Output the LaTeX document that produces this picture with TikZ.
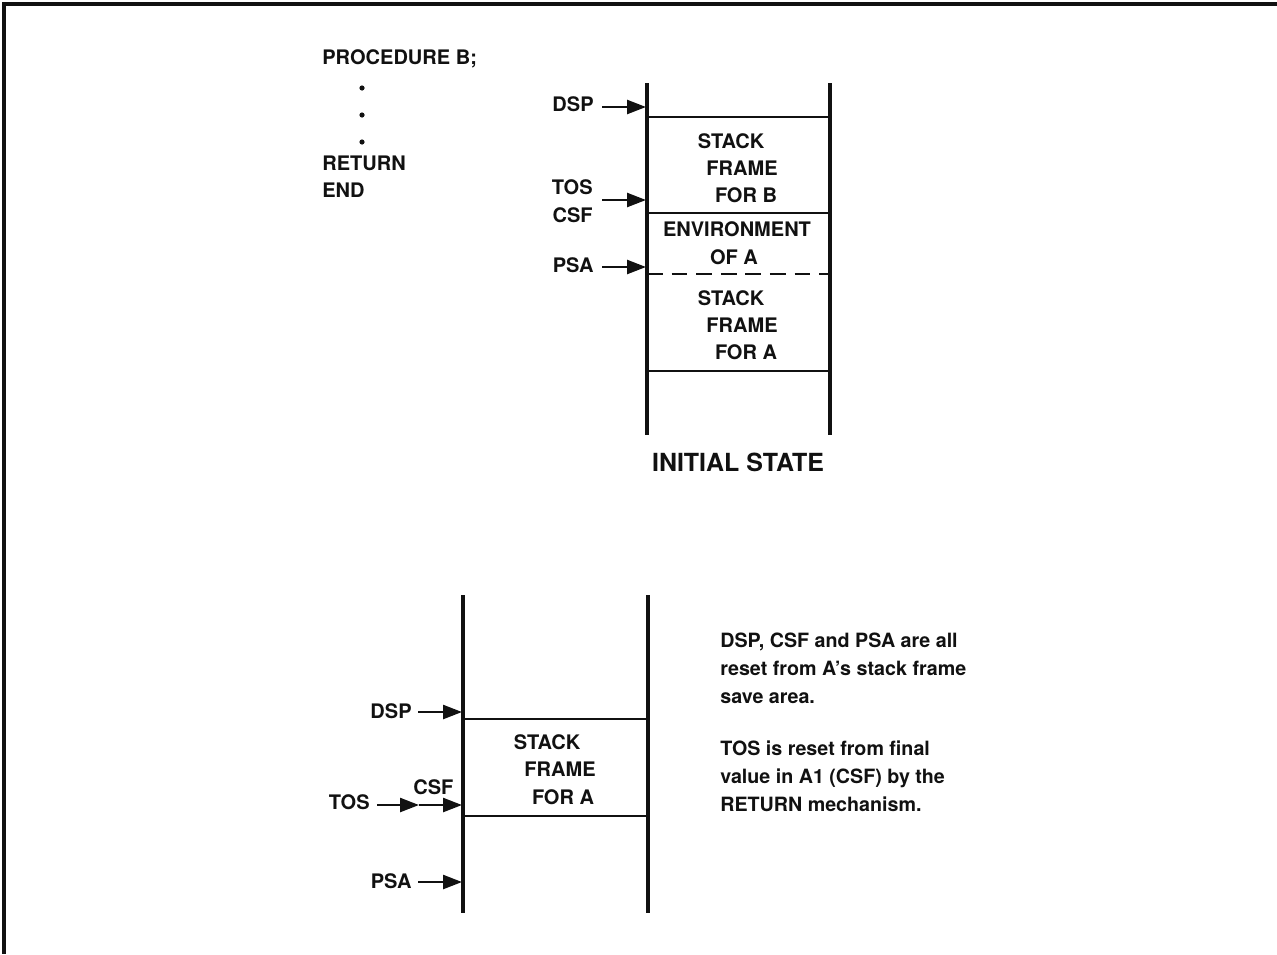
\documentclass[tikz,border=0pt]{standalone}
\usepackage{fontspec}
\setmainfont{TeX Gyre Heros}
\usetikzlibrary{positioning,arrows.meta}
\definecolor{Ink}{HTML}{111111}
\newcommand\lblfont{\fontsize{11.4}{15.3}\selectfont\bfseries}
\newcommand\notefont{\fontsize{11.2}{15.9}\selectfont\bfseries}
\newcommand\statefont{\fontsize{14.2}{17}\selectfont\bfseries}
\tikzset{
  lbl/.style={font=\lblfont,text=Ink,inner sep=0pt},
  stackline/.style={draw=Ink,line width=2.2pt},
  divider/.style={draw=Ink,line width=1.6pt},
  ptr/.style={draw=Ink,line width=1.4pt,
    -{Triangle[length=3.8mm,width=2.8mm]}},
}

\begin{document}
\begin{tikzpicture}[x=0.02cm,y=-0.02cm]
  \useasboundingbox (0,0) rectangle (1277,954);
  % frame round the figure
  \draw[Ink,line width=1.8pt] (1277,4) -- (4,4) -- (4,954);

  % program text
  \node[lbl,anchor=base west] (proc) at (322,64) {PROCEDURE B;};
  \foreach \y/\n in {88/1,115/2,142/3}
    \fill[Ink] (362,\y) circle (2.6) coordinate (dot\n);
  \node[lbl,anchor=base west] (ret) at (322,170) {RETURN};
  \node[lbl,anchor=base west] (endb) at (322,197) {END};

  % initial state stack
  \draw[stackline] (647,83) coordinate (aTopL) -- (647,435) coordinate (aBotL);
  \draw[stackline] (830,83) coordinate (aTopR) -- (830,435) coordinate (aBotR);
  \draw[divider] (647,117) coordinate (dspA) -- (830,117);
  \draw[divider] (647,213) coordinate (tosA) -- (830,213);
  \draw[divider,dash pattern=on 9pt off 5pt] (647,274) -- (830,274);
  \draw[divider] (647,371) -- (830,371);

  \foreach \x/\y/\t/\n in {731/148/STACK/1, 742/175/FRAME/2, 746/202/FOR B/3,
                           737/236/ENVIRONMENT/4, 734/264/OF A/5,
                           731/305/STACK/6, 742/332/FRAME/7, 746/359/FOR A/8}
    \node[lbl,anchor=base] (txA\n) at (\x,\y) {\t};

  \node[lbl,anchor=base east] (dspLa) at (594,111) {DSP};
  \node[lbl,anchor=base east] (tosLa) at (593,194) {TOS};
  \node[lbl,anchor=base east] (csfLa) at (593,222) {CSF};
  \node[lbl,anchor=base east] (psaLa) at (594,272) {PSA};
  \coordinate (dspPa) at (646,107);
  \coordinate (tosPa) at (646,200);
  \coordinate (psaPa) at (646,267);
  \draw[ptr] (602,107) -- (dspPa);
  \draw[ptr] (602,200) -- (tosPa);
  \draw[ptr] (602,267) -- (psaPa);

  \node[font=\statefont,text=Ink,inner sep=0pt,anchor=base] (init)
        at (738,471) {INITIAL STATE};

  % state after return
  \draw[stackline] (463,595) coordinate (bTopL) -- (463,913) coordinate (bBotL);
  \draw[stackline] (648,595) coordinate (bTopR) -- (648,913) coordinate (bBotR);
  \draw[divider] (463,719) -- (648,719);
  \draw[divider] (463,816) -- (648,816);

  \foreach \x/\y/\t/\n in {547/749/STACK/1, 560/776/FRAME/2, 563/804/FOR A/3}
    \node[lbl,anchor=base] (txB\n) at (\x,\y) {\t};

  \node[lbl,anchor=base east] (dspLb) at (412,718) {DSP};
  \node[lbl,anchor=base east] (tosLb) at (370,809) {TOS};
  \node[lbl,anchor=base west] (csfLb) at (413,794) {CSF};
  \node[lbl,anchor=base east] (psaLb) at (412,888) {PSA};
  \coordinate (dspPb) at (462,712);
  \coordinate (csfM) at (419,805);
  \coordinate (tosPb) at (462,805);
  \coordinate (psaPb) at (462,882);
  \draw[ptr] (418,712) -- (dspPb);
  \draw[ptr] (377,805) -- (csfM);
  \draw[ptr] (csfM) -- (tosPb);
  \draw[ptr] (418,882) -- (psaPb);

  \node[font=\notefont,text=Ink,inner sep=0pt,anchor=base west,align=left]
        (note1) at (720,703)
        {DSP, CSF and PSA are all\\reset from A's stack frame\\save area.};
  \node[font=\notefont,text=Ink,inner sep=0pt,anchor=base west,align=left]
        (note2) at (720,811)
        {TOS is reset from final\\value in A1 (CSF) by the\\RETURN mechanism.};
\end{tikzpicture}
\end{document}
